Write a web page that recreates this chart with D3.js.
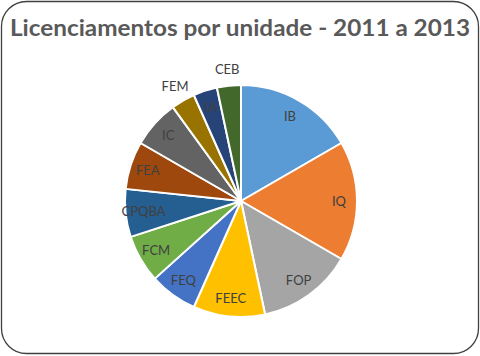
<!DOCTYPE html>
<html><head><meta charset="utf-8">
<script src="https://cdn.jsdelivr.net/npm/d3@7"></script>
<style>html,body{margin:0;padding:0;background:#fff;}svg{display:block;}</style>
</head><body>
<svg id="chart" width="480" height="356"></svg>
<script>
const title = "Licenciamentos por unidade - 2011 a 2013";
const categories = ["IB","IQ","FOP","FEEC","FEQ","FCM","CPQBA","FEA","IC","FEM","IA","CEB"];
const values = [5,5,4,3,2,2,2,2,2,1,1,1];
const colors = ["#5B9BD5","#ED7D31","#A5A5A5","#FFC000","#4472C4","#70AD47","#255E91","#9E480E","#636363","#997300","#264478","#43682B"];
const outsideLabels = ["FEM","CEB"];

const svg = d3.select("#chart");
svg.append("rect").attr("x",1.5).attr("y",1.5).attr("width",477).attr("height",352)
  .attr("rx",25).attr("ry",25).attr("fill","#fff").attr("stroke","#404040").attr("stroke-width",1.3);

svg.append("text").attr("x",240).attr("y",35.5).attr("text-anchor","middle")
  .attr("font-family","Lato, 'Open Sans', sans-serif").attr("font-weight","bold")
  .attr("font-size",22).attr("fill","#595959")
  .attr("textLength",460).attr("lengthAdjust","spacingAndGlyphs")
  .text(title);

const cx = 241, cy = 201, r = 116;
const data = categories.map((c,i)=>({name:c, value:values[i], color:colors[i]}));
const pie = d3.pie().value(d=>d.value).sort(null);
const arcs = pie(data);
const arc = d3.arc().innerRadius(0).outerRadius(r);
const g = svg.append("g").attr("transform",`translate(${cx},${cy})`);
g.selectAll("path").data(arcs).join("path")
  .attr("d",arc).attr("fill",d=>d.data.color)
  .attr("stroke","#fff").attr("stroke-width",2).attr("stroke-linejoin","round");

const inArc = d3.arc().innerRadius(98).outerRadius(98);
const outArc = d3.arc().innerRadius(132).outerRadius(132);
g.selectAll("text.lbl").data(arcs).join("text").attr("class","lbl")
  .attr("transform",d=>{
    const p = (outsideLabels.includes(d.data.name)?outArc:inArc).centroid(d);
    return `translate(${p[0]},${p[1]})`;
  })
  .attr("text-anchor","middle").attr("dy","0.35em")
  .attr("font-family","Lato, 'Open Sans', sans-serif").attr("font-size",13)
  .attr("fill","#404040")
  .text(d=>d.data.name);
</script>
</body></html>
